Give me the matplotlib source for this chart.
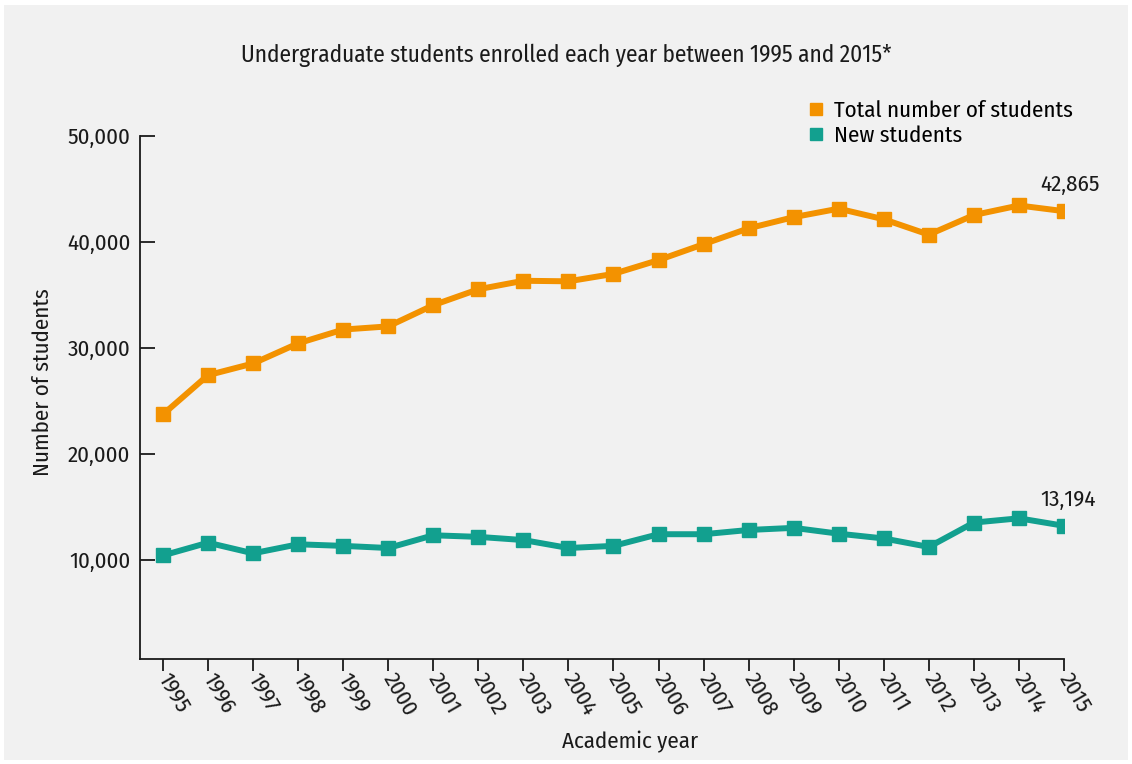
import matplotlib
matplotlib.use("Agg")
import matplotlib.pyplot as plt
from matplotlib.lines import Line2D
from matplotlib.patches import Rectangle

years = list(range(1995, 2016))
total_students = [23700, 27400, 28500, 30400, 31700, 32000, 34000, 35500, 36300, 36250,
                  36950, 38250, 39750, 41250, 42300, 43100, 42100, 40650, 42500, 43400, 42865]
new_students = [10400, 11600, 10600, 11450, 11300, 11100, 12300, 12150, 11850, 11100,
                11300, 12400, 12400, 12800, 13000, 12450, 12000, 11200, 13500, 13900, 13194]
y_ticks = [10000, 20000, 30000, 40000, 50000]

ORANGE = "#f39200"
TEAL = "#12a08f"
BG = "#f1f1f1"
INK = "#1a1a1a"

# condensed face like the original; falls back to DejaVu if none is there
plt.rcParams["font.family"] = ["Fira Sans Condensed", "Ubuntu Condensed", "Asap Condensed",
                               "Archivo Narrow", "DejaVu Sans"]

fig = plt.figure(figsize=(11.32, 7.64), dpi=100)
fig.patch.set_facecolor("white")
fig.patches.append(Rectangle((4 / 1132, 4 / 764), 1 - 8 / 1132, 1 - 9 / 764,
                             transform=fig.transFigure, facecolor=BG, edgecolor="none", zorder=-10))

ax = fig.add_axes([140 / 1132, 1 - 658.5 / 764, (1064 - 140) / 1132, (658.5 - 135.5) / 764])
ax.set_facecolor("none")

ax.plot(years, total_students, color=ORANGE, lw=4.3, marker="s", ms=10, solid_joinstyle="miter")
ax.plot(years, new_students, color=TEAL, lw=4.3, marker="s", ms=10, solid_joinstyle="miter")

ax.set_xlim(1994.49, 2015)
ax.set_ylim(680, 50000)
ax.set_yticks(y_ticks)
ax.set_yticklabels([f"{v:,}" for v in y_ticks], fontsize=16.5)
ax.set_xticks(years)
ax.set_xticklabels([str(y) for y in years], fontsize=16.5, rotation=-60,
                   ha="left", va="center", rotation_mode="anchor")

for s in ["top", "right"]:
    ax.spines[s].set_visible(False)
for s in ["left", "bottom"]:
    ax.spines[s].set_linewidth(1.3)
    ax.spines[s].set_color(INK)
ax.tick_params(axis="y", direction="in", length=11, width=1.3, pad=7, colors=INK)
ax.tick_params(axis="x", direction="out", length=8.5, width=1.3, pad=3, colors=INK)

ax.annotate(f"{total_students[-1]:,}", (years[-1], total_students[-1]), xytext=(4, 11),
            textcoords="offset points", ha="center", va="bottom", fontsize=16.5, color=INK)
ax.annotate(f"{new_students[-1]:,}", (years[-1], new_students[-1]), xytext=(3, 11),
            textcoords="offset points", ha="center", va="bottom", fontsize=16.5, color=INK)

handles = [Line2D([], [], color=ORANGE, marker="s", ls="none", ms=9),
           Line2D([], [], color=TEAL, marker="s", ls="none", ms=9)]
fig.legend(handles, ["Total number of students", "New students"], loc="upper left",
           bbox_to_anchor=(795 / 1132, 1 - 91 / 764), frameon=False, fontsize=16.5,
           handletextpad=0.3, labelspacing=0.15, handlelength=1.0, borderaxespad=0)

fig.text(0.5, 1 - 55 / 764, "Undergraduate students enrolled each year between 1995 and 2015*",
         ha="center", va="center", fontsize=16.8, color=INK)
fig.text(43 / 1132, 1 - 382 / 764, "Number of students", rotation=90,
         ha="center", va="center", fontsize=16.5, color=INK)
fig.text(630 / 1132, 1 - 742 / 764, "Academic year", ha="center", va="center",
         fontsize=16.5, color=INK)

fig.savefig("out.png", dpi=100, facecolor=fig.get_facecolor())
